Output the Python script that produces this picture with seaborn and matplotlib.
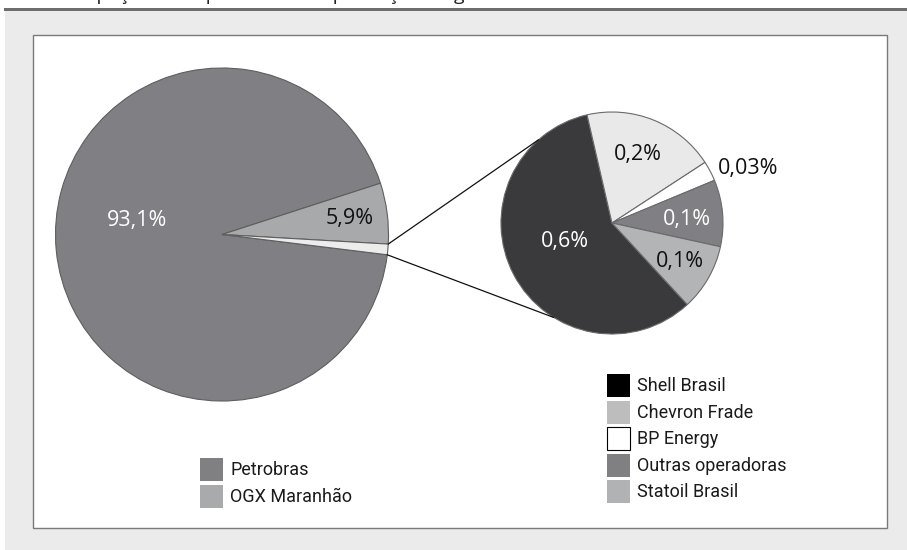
import matplotlib
matplotlib.use('Agg')
import numpy as np
import matplotlib.pyplot as plt
import seaborn as sns
from matplotlib.patches import Patch, Rectangle, ConnectionPatch
from matplotlib.font_manager import FontProperties

# data
main_labels = ['Petrobras', 'OGX Maranhão']
main_values = [93.1, 5.9]
detail_labels = ['Shell Brasil', 'Chevron Frade', 'BP Energy', 'Outras operadoras', 'Statoil Brasil']
detail_values = [0.6, 0.2, 0.03, 0.1, 0.1]

# colours (pie fill / legend swatch differ a bit in the original)
main_colors = ['#808084', '#a8a9ab', '#ececec']
main_legend_colors = ['#808083', '#a9aaac']
detail_colors = ['#3a3a3c', '#e9e9e9', '#ffffff', '#808084', '#b3b4b6']
detail_legend_colors = ['#000000', '#bdbdbd', '#ffffff', '#808083', '#b1b2b4']
main_text_colors = ['white', '#111111']
detail_text_colors = ['white', '#111111', '#111111', 'white', '#111111']

# label positions in pie-radius units
main_label_pos = [(-0.513, 0.084), (0.767, 0.095)]
detail_label_pos = [(-0.426, -0.163), (0.229, 0.616), (1.23, 0.49), (0.676, 0.028), (0.609, -0.344)]


def fmt(v):
    return ('%g' % v).replace('.', ',') + '%'


sns.set_theme(style='white')
plt.rcParams['font.family'] = ['Open Sans', 'DejaVu Sans']
LEG_SIZE = 13
legend_font = FontProperties(family=['Roboto', 'DejaVu Sans'], size=LEG_SIZE)
leg_px = LEG_SIZE * 100 / 72

W, H = 907, 550
fig = plt.figure(figsize=(W / 100, H / 100), dpi=100)
fig.patch.set_facecolor('white')

# page furniture: gray panel, dark rule, white chart box
fig.add_artist(Rectangle((5 / W, 0), 1, (H - 11) / H, transform=fig.transFigure,
                         facecolor='#ebebeb', edgecolor='none', zorder=-10))
fig.add_artist(Rectangle((4 / W, (H - 11) / H), 1, 3 / H, transform=fig.transFigure,
                         facecolor='#6e6e6e', edgecolor='none', zorder=-9))
fig.add_artist(Rectangle((33 / W, (H - 528) / H), (887 - 33) / W, (528 - 35) / H,
                         transform=fig.transFigure, facecolor='white',
                         edgecolor='#7a7a7a', linewidth=1, zorder=-8))
# title line, cut by the top edge as in the original
fig.text(40 / W, 1.0, 'Participação das operadoras na produção de gás natural',
         fontsize=14, va='baseline', ha='left', color='#222222')

LIM = 1.35


def axes_at(cx, cy, r):
    return fig.add_axes([(cx - r * LIM) / W, (H - cy - r * LIM) / H,
                         2 * r * LIM / W, 2 * r * LIM / H])


# big pie
ax1 = axes_at(222, 234.5, 166.5)
wedges1, _ = ax1.pie(main_values + [sum(detail_values)], colors=main_colors,
                     startangle=353, counterclock=False,
                     wedgeprops=dict(edgecolor='#5e5e5e', linewidth=0.8))
for i, v in enumerate(main_values):
    x, y = main_label_pos[i]
    ax1.text(x, y, fmt(v), ha='center', va='center', fontsize=15.5,
             color=main_text_colors[i])

# small pie
ax2 = axes_at(612, 223, 111)
wedges2, _ = ax2.pie(detail_values, colors=detail_colors,
                     startangle=312.7, counterclock=False,
                     wedgeprops=dict(edgecolor='#6a6a6a', linewidth=0.8))
for i, v in enumerate(detail_values):
    x, y = detail_label_pos[i]
    ax2.text(x, y, fmt(v), ha='center', va='center', fontsize=15.5,
             color=detail_text_colors[i])

for ax in (ax1, ax2):
    ax.set_xlim(-LIM, LIM)
    ax.set_ylim(-LIM, LIM)
    ax.set_aspect('equal')
    ax.set_axis_off()

# connector lines from the small slice to the detail pie
sliver = wedges1[2]
for theta_big, theta_small in [(sliver.theta2, 131.4), (sliver.theta1, 238.3)]:
    a = np.deg2rad(theta_big)
    b = np.deg2rad(theta_small)
    con = ConnectionPatch(xyA=(np.cos(a), np.sin(a)), coordsA=ax1.transData,
                          xyB=(np.cos(b), np.sin(b)), coordsB=ax2.transData,
                          color='#111111', linewidth=0.9)
    fig.add_artist(con)

# legends: swatches 23 px square; matplotlib trims handle height by a descent term
sw = 23 / leg_px
hh = (sw - 0.245) / 0.65
common = dict(loc='upper left', frameon=False, borderpad=0, borderaxespad=0,
              handlelength=sw, handleheight=hh, handletextpad=0.4,
              labelspacing=3.5 / leg_px, prop=legend_font, labelcolor='#1a1a1a')

h1 = [Patch(facecolor=c, edgecolor='none') for c in main_legend_colors]
fig.legend(handles=h1, labels=main_labels, bbox_to_anchor=(200 / W, 1 - 458 / H), **common)

h2 = [Patch(facecolor=c, edgecolor='black' if c == '#ffffff' else 'none', linewidth=0.8)
      for c in detail_legend_colors]
fig.legend(handles=h2, labels=detail_labels, bbox_to_anchor=(607 / W, 1 - 374 / H), **common)

fig.savefig('out.png', dpi=100)
